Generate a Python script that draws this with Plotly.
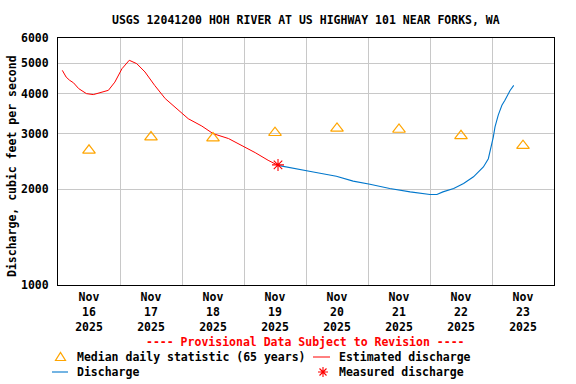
import plotly.graph_objects as go

# ---------------- data ----------------
est_time = ["2025-11-16 01:40", "2025-11-16 03:10", "2025-11-16 04:30", "2025-11-16 06:00", "2025-11-16 08:00",
            "2025-11-16 11:00", "2025-11-16 13:40", "2025-11-16 16:50", "2025-11-16 19:30", "2025-11-16 22:00",
            "2025-11-17 00:45", "2025-11-17 03:35", "2025-11-17 06:30", "2025-11-17 09:40", "2025-11-17 13:25",
            "2025-11-17 17:30", "2025-11-17 22:30", "2025-11-18 02:25", "2025-11-18 07:40", "2025-11-18 12:00",
            "2025-11-18 18:00", "2025-11-18 23:00", "2025-11-19 04:20", "2025-11-19 09:20", "2025-11-19 13:10"]
est_cfs = [4745, 4518, 4415, 4335, 4157,
           4008, 3980, 4037, 4105, 4356,
           4800, 5105, 4980, 4690, 4255,
           3866, 3548, 3341, 3168, 2999,
           2893, 2755, 2612, 2471, 2382]

q_time = ["2025-11-19 13:10", "2025-11-19 21:35", "2025-11-20 02:50", "2025-11-20 11:45", "2025-11-20 18:15",
          "2025-11-21 00:45", "2025-11-21 08:25", "2025-11-21 16:20", "2025-11-22 00:00", "2025-11-22 02:40",
          "2025-11-22 05:00", "2025-11-22 09:10", "2025-11-22 13:00", "2025-11-22 16:50", "2025-11-22 20:40",
          "2025-11-22 22:35", "2025-11-22 23:45", "2025-11-23 00:30", "2025-11-23 01:10", "2025-11-23 02:25",
          "2025-11-23 03:50", "2025-11-23 05:00", "2025-11-23 07:00", "2025-11-23 08:25"]
q_cfs = [2382, 2318, 2271, 2201, 2124,
         2077, 2015, 1965, 1928, 1928,
         1965, 2015, 2089, 2192, 2355,
         2500, 2724, 2925, 3147, 3428,
         3683, 3817, 4102, 4255]

median_time = ["2025-11-16 12:00", "2025-11-17 12:00", "2025-11-18 12:00", "2025-11-19 12:00",
               "2025-11-20 12:00", "2025-11-21 12:00", "2025-11-22 12:00", "2025-11-23 12:00"]
median_cfs = [2657, 2925, 2904, 3018, 3114, 3090, 2951, 2748]

meas_time = ["2025-11-19 13:10"]
meas_cfs = [2390]

day_ticks = median_time
day_labels = ["Nov<br>16<br>2025", "Nov<br>17<br>2025", "Nov<br>18<br>2025", "Nov<br>19<br>2025",
              "Nov<br>20<br>2025", "Nov<br>21<br>2025", "Nov<br>22<br>2025", "Nov<br>23<br>2025"]
y_ticks = [1000, 2000, 3000, 4000, 5000, 6000]

# ---------------- style ----------------
FONT = "DejaVu Sans Mono"
RED = "#ff0000"
BLUE = "#0077cc"
ORANGE = "#ffa500"
W, H = 576, 384
L, R, T, B = 58, 22, 38, 99
PW, PH = W - L - R, H - T - B


def px(x):
    return (x - L) / PW


def py(y):
    return (T + PH - y) / PH


fig = go.Figure()
fig.add_trace(go.Scatter(x=est_time, y=est_cfs, mode="lines", line=dict(color=RED, width=1),
                         showlegend=False, hoverinfo="skip"))
fig.add_trace(go.Scatter(x=q_time, y=q_cfs, mode="lines", line=dict(color=BLUE, width=1.1),
                         showlegend=False, hoverinfo="skip"))
fig.add_trace(go.Scatter(x=median_time, y=median_cfs, mode="markers",
                         marker=dict(symbol="triangle-up-open", size=11, color=ORANGE, line=dict(width=1.2)),
                         showlegend=False, hoverinfo="skip"))
fig.add_trace(go.Scatter(x=meas_time, y=meas_cfs, mode="markers",
                         marker=dict(symbol="asterisk-open", size=10, color=RED, line=dict(width=1.1, color=RED)),
                         showlegend=False, hoverinfo="skip"))

fnt = dict(family=FONT, size=11.5, color="black", weight="bold")

fig.update_layout(
    width=W, height=H,
    margin=dict(l=L, r=R, t=T, b=B),
    paper_bgcolor="white", plot_bgcolor="white",
    font=fnt,
    xaxis=dict(
        range=["2025-11-16 00:00", "2025-11-24 00:00"],
        tickmode="array", tickvals=day_ticks, ticktext=day_labels,
        showgrid=False, ticks="", ticklabelstandoff=1,
        showline=True, linecolor="black", linewidth=1, mirror=True,
        minor=dict(tickmode="linear", tick0="2025-11-16", dtick=86400000,
                   showgrid=True, gridcolor="#c8c8c8", gridwidth=1),
        zeroline=False,
    ),
    yaxis=dict(
        type="log", range=[3, 3.77815],
        tickmode="array", tickvals=y_ticks, ticktext=[str(v) for v in y_ticks],
        showgrid=True, gridcolor="#c8c8c8", gridwidth=1,
        ticks="", ticklabelstandoff=6,
        showline=True, linecolor="black", linewidth=1, mirror=True,
        zeroline=False,
    ),
)

ann = []
ann.append(dict(text="USGS 12041200 HOH RIVER AT US HIGHWAY 101 NEAR FORKS, WA",
                x=px(306), y=py(20), xref="paper", yref="paper", showarrow=False,
                xanchor="center", yanchor="middle", font=dict(family=FONT, size=11.5, weight="bold")))
ann.append(dict(text="Discharge, cubic feet per second", textangle=-90,
                x=px(12), y=py(166), xref="paper", yref="paper", showarrow=False,
                xanchor="center", yanchor="middle", font=dict(family=FONT, size=11.5, weight="bold")))
ann.append(dict(text="---- Provisional Data Subject to Revision ----",
                x=px(305), y=py(342), xref="paper", yref="paper", showarrow=False,
                xanchor="center", yanchor="middle", font=dict(family=FONT, size=11.5, color=RED, weight="bold")))
for txt, x0, y0 in [("Median daily statistic (65 years)", 75, 357), ("Estimated discharge", 337, 357),
                    ("Discharge", 75, 372), ("Measured discharge", 337, 372)]:
    ann.append(dict(text=txt, x=px(x0), y=py(y0), xref="paper", yref="paper", showarrow=False,
                    xanchor="left", yanchor="middle", font=dict(family=FONT, size=11.5, weight="bold")))
fig.update_layout(annotations=ann)

shapes = []
shapes.append(dict(type="line", xref="paper", yref="paper", x0=px(313), x1=px(330), y0=py(357), y1=py(357),
                   line=dict(color=RED, width=1)))
shapes.append(dict(type="line", xref="paper", yref="paper", x0=px(52), x1=px(68), y0=py(372), y1=py(372),
                   line=dict(color=BLUE, width=1.1)))
shapes.append(dict(type="path", xref="paper", yref="paper", xsizemode="pixel", ysizemode="pixel",
                   xanchor=px(60.5), yanchor=py(357), path="M-5,-3.5 L5,-3.5 L0,4.5 Z",
                   line=dict(color=ORANGE, width=1.2)))
shapes.append(dict(type="path", xref="paper", yref="paper", xsizemode="pixel", ysizemode="pixel",
                   xanchor=px(323), yanchor=py(372),
                   path="M-5,0 L5,0 M0,-5 L0,5 M-3.5,-3.5 L3.5,3.5 M-3.5,3.5 L3.5,-3.5",
                   line=dict(color=RED, width=1.1)))
fig.update_layout(shapes=shapes)

fig.write_html("out.html", config={"displayModeBar": False, "staticPlot": True},
               post_script="document.body.style.margin='0';document.body.style.padding='0';")
